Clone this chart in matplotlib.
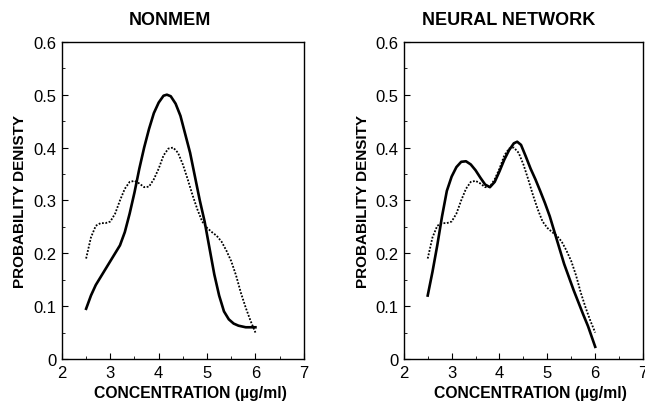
import matplotlib.pyplot as plt
from matplotlib.ticker import MultipleLocator

# observed density (dotted), same in both panels
obs_x = [2.5, 2.6, 2.7, 2.8, 2.9, 3.0, 3.1, 3.2, 3.3, 3.4, 3.5, 3.6, 3.7, 3.8,
         3.9, 4.0, 4.1, 4.2, 4.3, 4.4, 4.5, 4.6, 4.7, 4.8, 4.9, 5.0, 5.1, 5.2,
         5.3, 5.4, 5.5, 5.6, 5.7, 5.8, 5.9, 6.0]
obs_y = [0.19, 0.23, 0.252, 0.257, 0.257, 0.26, 0.275, 0.30, 0.322, 0.335, 0.337,
         0.332, 0.325, 0.326, 0.34, 0.36, 0.385, 0.398, 0.40, 0.39, 0.368, 0.34,
         0.31, 0.283, 0.26, 0.248, 0.24, 0.233, 0.222, 0.205, 0.185, 0.158, 0.125,
         0.097, 0.072, 0.05]

# NONMEM predicted density (solid)
nm_x = [2.5, 2.6, 2.7, 2.8, 2.9, 3.0, 3.1, 3.2, 3.3, 3.4, 3.5, 3.6, 3.7, 3.8,
        3.9, 4.0, 4.1, 4.17, 4.25, 4.35, 4.45, 4.55, 4.65, 4.75, 4.85, 4.95,
        5.05, 5.15, 5.25, 5.35, 5.45, 5.55, 5.65, 5.8, 6.0]
nm_y = [0.095, 0.12, 0.14, 0.155, 0.17, 0.185, 0.20, 0.215, 0.24, 0.275, 0.315,
        0.36, 0.40, 0.435, 0.465, 0.485, 0.498, 0.50, 0.497, 0.483, 0.46, 0.425,
        0.39, 0.345, 0.30, 0.26, 0.21, 0.16, 0.12, 0.09, 0.075, 0.067, 0.063,
        0.06, 0.06]

# neural network predicted density (solid)
nn_x = [2.5, 2.6, 2.7, 2.8, 2.9, 3.0, 3.1, 3.2, 3.3, 3.4, 3.5, 3.6, 3.7, 3.8,
        3.9, 4.0, 4.1, 4.2, 4.3, 4.37, 4.45, 4.55, 4.65, 4.75, 4.85, 4.95, 5.05,
        5.15, 5.25, 5.35, 5.45, 5.55, 5.65, 5.75, 5.85, 6.0]
nn_y = [0.12, 0.165, 0.215, 0.27, 0.318, 0.345, 0.363, 0.373, 0.374, 0.368,
        0.357, 0.343, 0.33, 0.325, 0.335, 0.355, 0.377, 0.395, 0.408, 0.411,
        0.405, 0.383, 0.36, 0.34, 0.318, 0.295, 0.27, 0.24, 0.21, 0.18, 0.155,
        0.13, 0.107, 0.084, 0.062, 0.023]

panels = [
    ("NONMEM", "PROBABILITY DENISTY", nm_x, nm_y),
    ("NEURAL NETWORK", "PROBABILITY DENSITY", nn_x, nn_y),
]
axes_rects = [[0.096, 0.1045, 0.375, 0.789], [0.626, 0.1045, 0.371, 0.789]]
title_x = [0.263, 0.788]
xlabel_x = [0.295, 0.822]
ylabel_x = [0.031, 0.563]

plt.rcParams['font.family'] = ['Liberation Sans', 'DejaVu Sans']

fig = plt.figure(figsize=(6.45, 4.02), dpi=100)

for i, (title, ylab, px, py) in enumerate(panels):
    ax = fig.add_axes(axes_rects[i])
    ax.plot(obs_x, obs_y, color="black", lw=1.3, linestyle=(0, (1.0, 0.9)))
    ax.plot(px, py, color="black", lw=1.9)
    ax.set_xlim(2, 7)
    ax.set_ylim(0, 0.6)
    ax.set_xticks([2, 3, 4, 5, 6, 7])
    ax.set_yticks([0, 0.1, 0.2, 0.3, 0.4, 0.5, 0.6])
    ax.set_yticklabels(["0", "0.1", "0.2", "0.3", "0.4", "0.5", "0.6"])
    ax.xaxis.set_minor_locator(MultipleLocator(0.5))
    ax.yaxis.set_minor_locator(MultipleLocator(0.05))
    ax.tick_params(which="major", direction="in", length=4, width=0.8,
                   labelsize=12, pad=4)
    ax.tick_params(which="minor", direction="in", length=2, width=0.6)
    for s in ax.spines.values():
        s.set_linewidth(1.0)
    fig.text(ylabel_x[i], 0.5, ylab, ha="center", va="center", rotation=90,
             fontsize=11, fontweight="bold")
    fig.text(title_x[i], 0.95, title, ha="center", va="center",
             fontsize=13, fontweight="bold")
    fig.text(xlabel_x[i], 0.022, "CONCENTRATION (\u00b5g/ml)", ha="center",
             va="center", fontsize=11.3, fontweight="bold")

fig.savefig("out.png", dpi=100)
